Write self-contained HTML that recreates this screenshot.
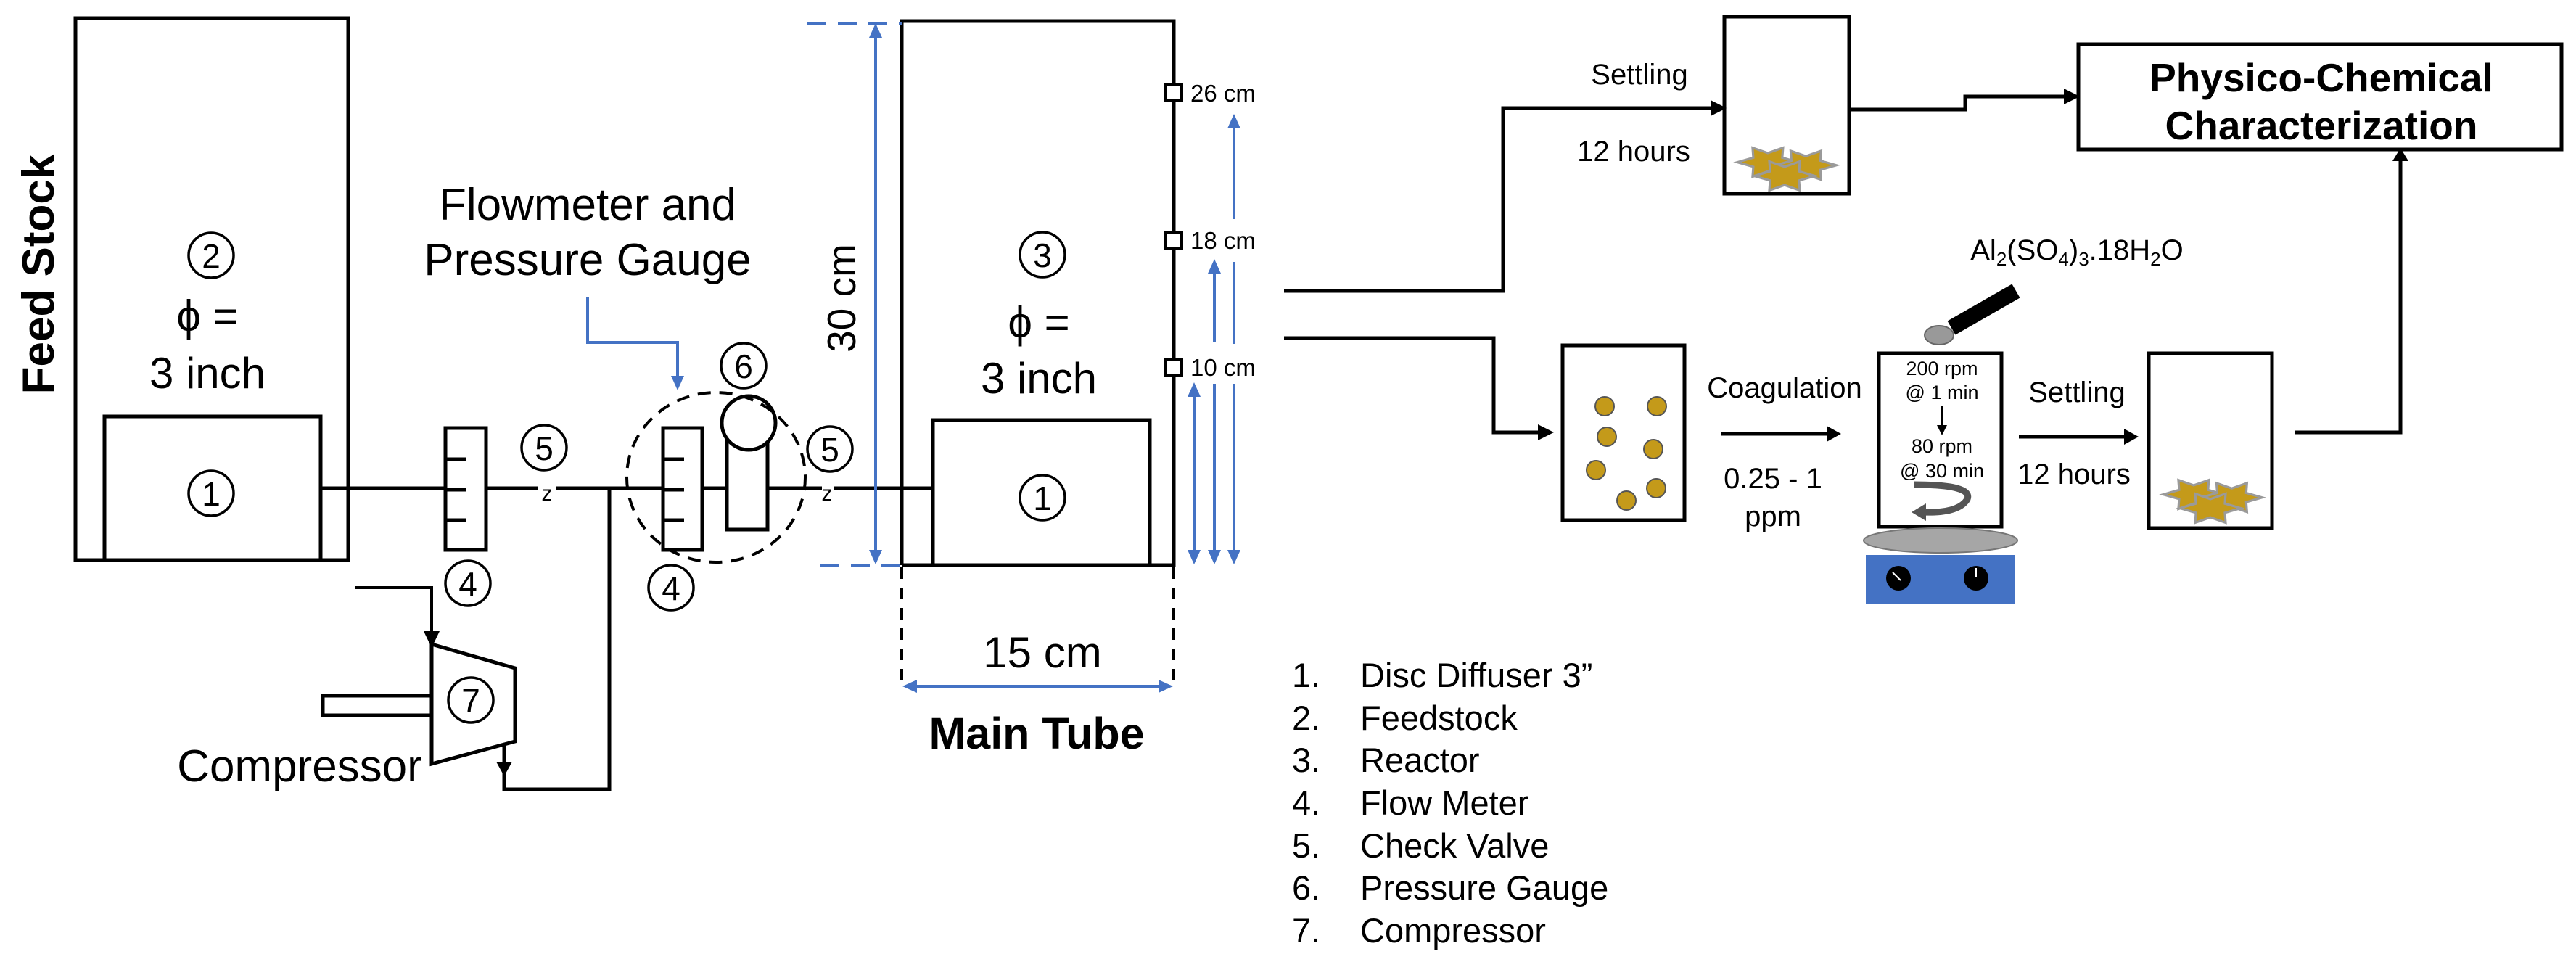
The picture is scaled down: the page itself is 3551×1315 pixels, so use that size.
<!DOCTYPE html>
<html><head><meta charset="utf-8"><style>
html,body{margin:0;padding:0;background:#fff;}
svg{display:block;}
text{font-family:"Liberation Sans",Arial,sans-serif;fill:#000;}
</style></head><body>
<svg width="3551" height="1315" viewBox="0 0 3551 1315" xmlns="http://www.w3.org/2000/svg">
<defs>
<polygon id="st" points="40,0 19,-6 20,-19 0,-12 -20,-19 -19,-6 -40,0 -19,6 -20,19 0,12 20,19 19,6" fill="#C49A1A" stroke="#9a9a9a" stroke-width="3"/>
<g id="flocs"><use href="#st" x="-22" y="-8"/><use href="#st" x="28" y="-4"/><use href="#st" x="0" y="10"/></g>
</defs>

<g fill="none" stroke="#000" stroke-width="5">
<rect x="104" y="25" width="376" height="747"/>
<rect x="144" y="574" width="298" height="198"/>
<line x1="442" y1="673" x2="742" y2="673"/>
<line x1="766" y1="673" x2="1133" y2="673"/>
<line x1="1150" y1="673" x2="1286" y2="673"/>
<rect x="614" y="590" width="56" height="168" fill="#fff"/>
<line x1="614" y1="633" x2="643" y2="633"/><line x1="614" y1="675" x2="643" y2="675"/><line x1="614" y1="717" x2="643" y2="717"/>
<rect x="914" y="590" width="54" height="168" fill="#fff"/>
<line x1="914" y1="633" x2="943" y2="633"/><line x1="914" y1="675" x2="943" y2="675"/><line x1="914" y1="717" x2="943" y2="717"/>
<rect x="1002" y="604" width="56" height="126" fill="#fff"/>
<circle cx="1032" cy="583" r="37" fill="#fff"/>
<polyline points="840,673 840,1088 695,1088 695,1022"/>
<polyline points="490,810 595,810 595,880" stroke-width="4"/>
<polygon points="595,888 710,921 710,1022 595,1053" fill="#fff"/>
<rect x="445" y="959" width="150" height="27"/>
<polyline points="1243,779 1243,29 1618,29 1618,779 1243,779"/>
<rect x="1286" y="579" width="299" height="200"/>
<polyline points="1770,401 2072,401 2072,149 2360,149"/>
<polyline points="1770,466 2059,466 2059,596 2125,596"/>
<rect x="2377" y="23" width="172" height="244"/>
<polyline points="2549,151 2709,151 2709,133 2850,133"/>
<rect x="2865" y="61" width="666" height="145"/>
<rect x="2154" y="476" width="168" height="241"/>
<rect x="2590" y="487" width="169" height="239"/>
<rect x="2962" y="487" width="170" height="241"/>
<polyline points="3163,596 3309,596 3309,220"/>
</g>
<g fill="#000">
<path d="M584,870 L606,870 L595,893 z"/>
<path d="M684,1050 L706,1050 L695,1070 z"/>
<path d="M2358,138 L2380,149 L2358,160 z"/>
<path d="M2120,585 L2142,596 L2120,607 z"/>
<path d="M2845,122 L2867,133 L2845,144 z"/>
<path d="M3298,222 L3309,204 L3320,222 z"/>
</g>
<g stroke="#000" stroke-width="5">
<line x1="2372" y1="598" x2="2520" y2="598"/>
<line x1="2783" y1="602" x2="2930" y2="602"/>
</g>
<path d="M2518,587 L2538,598 L2518,609 z"/>
<path d="M2928,591 L2948,602 L2928,613 z"/>

<text x="754" y="690" font-size="30" text-anchor="middle">z</text>
<text x="1140" y="690" font-size="30" text-anchor="middle">z</text>

<ellipse cx="987" cy="658" rx="123" ry="117" fill="none" stroke="#000" stroke-width="4" stroke-dasharray="18,12"/>

<g fill="#fff" stroke="#000" stroke-width="4">
<rect x="1607" y="117" width="22" height="22"/>
<rect x="1607" y="320" width="22" height="22"/>
<rect x="1607" y="495" width="22" height="22"/>
</g>

<g stroke="#4472C4" stroke-width="4" fill="none">
<polyline points="810,409 810,472 934,472 934,520"/>
<line x1="1113" y1="32" x2="1243" y2="32" stroke-dasharray="26,16"/>
<line x1="1131" y1="779" x2="1243" y2="779" stroke-dasharray="26,16"/>
<line x1="1207" y1="50" x2="1207" y2="760"/>
<line x1="1646" y1="545" x2="1646" y2="760"/>
<line x1="1674" y1="375" x2="1674" y2="472"/>
<line x1="1674" y1="529" x2="1674" y2="760"/>
<line x1="1701" y1="175" x2="1701" y2="302"/>
<line x1="1701" y1="361" x2="1701" y2="474"/>
<line x1="1701" y1="529" x2="1701" y2="760"/>
<line x1="1262" y1="946" x2="1600" y2="946"/>
</g>
<g fill="#4472C4">
<path d="M925,518 L943,518 L934,538 z"/>
<path d="M1198,52 L1207,32 L1216,52 z"/><path d="M1198,758 L1207,778 L1216,758 z"/>
<path d="M1637,547 L1646,527 L1655,547 z"/><path d="M1637,758 L1646,778 L1655,758 z"/>
<path d="M1665,377 L1674,357 L1683,377 z"/><path d="M1665,758 L1674,778 L1683,758 z"/>
<path d="M1692,177 L1701,157 L1710,177 z"/><path d="M1692,758 L1701,778 L1710,758 z"/>
<path d="M1264,937 L1244,946 L1264,955 z"/><path d="M1597,937 L1617,946 L1597,955 z"/>
</g>
<g stroke="#000" stroke-width="4" stroke-dasharray="16,12">
<line x1="1243" y1="782" x2="1243" y2="948"/>
<line x1="1618" y1="782" x2="1618" y2="948"/>
</g>

<g fill="none" stroke="#000" stroke-width="3.5">
<circle cx="291" cy="352" r="31"/><circle cx="291" cy="680" r="31"/>
<circle cx="750" cy="617" r="31"/><circle cx="645" cy="804" r="31"/>
<circle cx="1025" cy="504" r="31"/><circle cx="1144" cy="619" r="31"/>
<circle cx="925" cy="810" r="31"/><circle cx="649" cy="965" r="31"/>
<circle cx="1437" cy="351" r="31"/><circle cx="1437" cy="686" r="31"/>
</g>
<g font-size="46" text-anchor="middle">
<text x="291" y="369">2</text><text x="291" y="697">1</text>
<text x="750" y="634">5</text><text x="645" y="821">4</text>
<text x="1025" y="521">6</text><text x="1144" y="636">5</text>
<text x="925" y="827">4</text><text x="649" y="982">7</text>
<text x="1437" y="368">3</text><text x="1437" y="703">1</text>
</g>

<text transform="translate(74,378) rotate(-90)" font-size="62" font-weight="bold" text-anchor="middle">Feed Stock</text>
<g font-size="60" text-anchor="middle">
<text x="286" y="456">ϕ =</text>
<text x="286" y="535">3 inch</text>
<text x="1432" y="465">ϕ =</text>
<text x="1432" y="542">3 inch</text>
<text x="1437" y="920">15 cm</text>
</g>
<text x="810" y="303" font-size="62" text-anchor="middle">Flowmeter and</text>
<text x="810" y="379" font-size="62" text-anchor="middle">Pressure Gauge</text>
<text x="413" y="1077" font-size="62" text-anchor="middle">Compressor</text>
<text transform="translate(1179,411) rotate(-90)" font-size="55" text-anchor="middle">30 cm</text>
<g font-size="33">
<text x="1641" y="140">26 cm</text>
<text x="1641" y="343">18 cm</text>
<text x="1641" y="518">10 cm</text>
</g>
<text x="1429" y="1032" font-size="61" font-weight="bold" text-anchor="middle">Main Tube</text>
<g font-size="47">
<text x="1781" y="947">1.</text><text x="1875" y="947">Disc Diffuser 3”</text>
<text x="1781" y="1006">2.</text><text x="1875" y="1006">Feedstock</text>
<text x="1781" y="1064">3.</text><text x="1875" y="1064">Reactor</text>
<text x="1781" y="1123">4.</text><text x="1875" y="1123">Flow Meter</text>
<text x="1781" y="1182">5.</text><text x="1875" y="1182">Check Valve</text>
<text x="1781" y="1240">6.</text><text x="1875" y="1240">Pressure Gauge</text>
<text x="1781" y="1299">7.</text><text x="1875" y="1299">Compressor</text>
</g>
<g font-size="40" text-anchor="middle">
<text x="2260" y="116">Settling</text>
<text x="2252" y="222">12 hours</text>
<text x="2460" y="548">Coagulation</text>
<text x="2444" y="673">0.25 - 1</text>
<text x="2444" y="725">ppm</text>
<text x="2863" y="554">Settling</text>
<text x="2859" y="667">12 hours</text>
</g>
<text x="2863" y="358" font-size="40" text-anchor="middle">Al<tspan font-size="26" dy="8">2</tspan><tspan dy="-8">(SO</tspan><tspan font-size="26" dy="8">4</tspan><tspan dy="-8">)</tspan><tspan font-size="26" dy="8">3</tspan><tspan dy="-8">.18H</tspan><tspan font-size="26" dy="8">2</tspan><tspan dy="-8">O</tspan></text>
<g font-size="55" font-weight="bold" text-anchor="middle">
<text x="3200" y="126">Physico-Chemical</text>
<text x="3200" y="192">Characterization</text>
</g>
<g font-size="27" text-anchor="middle">
<text x="2677" y="517">200 rpm</text>
<text x="2677" y="550">@ 1 min</text>
<text x="2677" y="624">80 rpm</text>
<text x="2677" y="658">@ 30 min</text>
</g>
<line x1="2677" y1="560" x2="2677" y2="588" stroke="#000" stroke-width="2"/>
<path d="M2670,586 L2684,586 L2677,600 z"/>
<path d="M2638,668 Q2720,668 2712,688 Q2700,708 2650,706" fill="none" stroke="#555" stroke-width="9"/>
<path d="M2655,694 L2635,706 L2655,718 z" fill="#555"/>
<line x1="2779" y1="401" x2="2690" y2="452" stroke="#000" stroke-width="22"/>
<ellipse cx="2673" cy="462" rx="20" ry="13" fill="#999" stroke="#666" stroke-width="2"/>
<ellipse cx="2675" cy="745" rx="106" ry="17" fill="#a6a6a6" stroke="#777" stroke-width="2"/>
<rect x="2572" y="765" width="205" height="67" fill="#4472C4"/>
<circle cx="2617" cy="797" r="17" fill="#000"/><circle cx="2724" cy="797" r="17" fill="#000"/>
<line x1="2609" y1="789" x2="2620" y2="800" stroke="#fff" stroke-width="2"/>
<line x1="2724" y1="783" x2="2724" y2="795" stroke="#fff" stroke-width="2"/>
<g fill="#C49A1A" stroke="#555" stroke-width="2">
<circle cx="2212" cy="560" r="13"/><circle cx="2284" cy="560" r="13"/>
<circle cx="2215" cy="602" r="13"/><circle cx="2279" cy="619" r="13"/>
<circle cx="2200" cy="648" r="13"/><circle cx="2283" cy="673" r="13"/>
<circle cx="2242" cy="690" r="13"/>
</g>
<use href="#flocs" transform="translate(2460,232) scale(1.05)"/>
<use href="#flocs" transform="translate(3047,690) scale(1.05)"/>
</svg>
</body></html>
